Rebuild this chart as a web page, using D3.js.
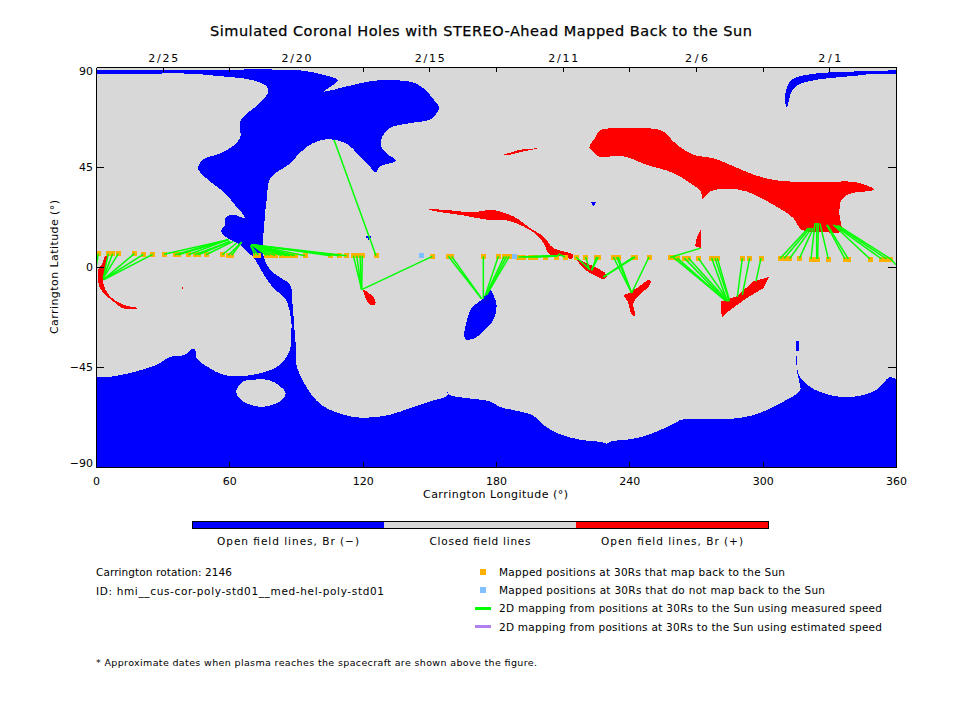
<!DOCTYPE html>
<html><head><meta charset="utf-8">
<script src="https://cdn.jsdelivr.net/npm/d3@7"></script>
<style>html,body{margin:0;padding:0;background:#fff}svg{display:block}text{font-family:"DejaVu Sans",sans-serif;fill:#000}</style>
</head><body><svg id="c" width="960" height="720"></svg>
<script>
// ---------- data (Carrington longitude, latitude in degrees) ----------
const lonTicks=[0,60,120,180,240,300,360];
const latTicks=[-90,-45,0,45,90];
const dateTickLons=[30,60,90,120,150,180,210,240,270,300,330];
const dateLabels={30:"2/25",90:"2/20",150:"2/15",210:"2/11",270:"2/6",330:"2/1"};

const blueMain=[[-5,88.8],[0,88.8],[20,88.8],[50,88.8],[83.55,88.8],[93.3,88.3],[102.3,86.5],[108.3,84.6],[108.75,84],[106.8,82],[102.45,79],[114.3,81.6],[124.8,83.8],[138.3,83.8],[144.3,82.5],[149.55,78.3],[152.55,74.5],[154.35,72],[152.55,68.1],[150.3,66.3],[139.8,64.5],[132.3,62.5],[128.55,58],[128.25,54.3],[130.8,51],[135,47.8],[127.8,45.3],[125.85,42.6],[122.55,46],[117.3,51.3],[113.55,55],[106.8,57.3],[100.8,57],[94.8,54],[90.3,49.8],[86.55,46],[79.8,41.5],[77.55,37.8],[77.1,32.5],[76.05,24.3],[75.6,16.8],[75,11.5],[75.6,4],[78.3,-1.2],[82.5,-4.5],[87.3,-8],[88.5,-17.7],[89.55,-31.2],[90,-37.2],[89.85,-38.7],[90.3,-44.7],[93.3,-51.5],[97.05,-57.5],[102.3,-62.7],[114.3,-67.2],[121.8,-67.8],[132.3,-66.5],[141.3,-63.5],[150.3,-60.5],[158.1,-57.8],[158.1,-56],[159,-57.5],[166.8,-59],[177.3,-60.5],[181.8,-63],[189.3,-64.7],[196.8,-66.9],[201.3,-71],[208.05,-75],[217.8,-77.7],[227.55,-78.8],[229.8,-79.5],[231.3,-78.6],[241.8,-77.3],[249.3,-75.2],[259.8,-70.7],[263.55,-68.7],[285.3,-68.4],[297.3,-66.2],[309.3,-60.6],[316.8,-55.7],[316.8,-53],[315.75,-48.5],[315.15,-40.2],[315.45,-40.2],[315.75,-47],[317.55,-50.7],[322.8,-54.9],[333.3,-58.2],[342.3,-58.2],[351.3,-55.2],[357.3,-49.5],[360,-50.4],[365,-50.6],[365,-95],[-5,-95],[-5,-49.8],[0,-49.7],[6.3,-49.4],[15.3,-47.7],[27.3,-44],[33.3,-40.5],[40.05,-39.5],[43.05,-36.8],[44.55,-37.2],[45.3,-41],[49.8,-44.7],[57.3,-48.5],[64.8,-49.2],[76.8,-47],[82.8,-44],[87.3,-37.2],[87.9,-28.2],[88.05,-26.7],[86.85,-18.5],[85,-14],[79.8,-9.5],[76,-4.2],[73,1],[70.8,4.5],[67.8,7],[64.8,10],[60.3,12.3],[56.25,16],[58.05,19],[58.05,22],[61.8,23.5],[67.05,22],[61.8,28.8],[57.3,34],[51.3,38.5],[46.05,43.8],[46.05,45.3],[48.3,48.6],[52.8,50.1],[58.8,52.5],[64.8,58],[64.8,65.5],[67.8,69],[73.8,73.8],[77.55,79],[76.8,81.3],[70.8,84],[53.55,86.1],[42.3,87],[20,87],[0,87],[-5,87]];
const closedIsland=[[63,-56],[66.3,-51.5],[70.8,-50.7],[78.3,-51],[82.8,-53.7],[85.35,-56.7],[83.55,-60],[76.8,-62.7],[70.8,-62.4],[64.8,-59.4]];
const blueBar=[[315,-33.2],[316.35,-33.2],[316.35,-37.7],[315,-37.7]];
const blueArc=[[365,88.5],[360,88.5],[342.3,88],[330.3,87.6],[319.8,86.5],[313.05,84.3],[310.8,80.5],[310.05,75.3],[310.8,71.8],[311.55,73.8],[313.05,79],[316.05,82],[322.8,84],[330.3,85],[342.3,86.1],[348.3,86.8],[360,87],[365,87]];
const blueTiny=[[222.9,29.2],[224.85,29.2],[224.6,28.2],[224.2,27.6],[223.6,27.6],[223.2,28.2]];
const blueCross=[[122.2,14.5],[122.9,14.5],[122.9,13.8],[123.8,13.8],[123.8,13],[122.9,13],[122.9,12.1],[122.2,12.1],[122.2,13],[121.4,13],[121.4,13.8],[122.2,13.8]];
const blueBlob=[[166.05,-32.4],[166.8,-24.5],[169.05,-18.5],[173.55,-14.7],[177.3,-10.2],[178.8,-12.5],[180.3,-17.7],[178.8,-23.7],[174.3,-29],[170.55,-32]];
const redBig=[[222,53.8],[224.55,58],[226.8,61.5],[235.8,62.5],[247.8,62.5],[255.3,61],[259.8,56.5],[265.8,52],[270.3,50.1],[277.8,49],[285.3,46],[297.3,41.1],[307.8,38.8],[322.8,38.1],[342.3,38.1],[350.1,34.8],[339.3,33],[335.55,30.3],[334.5,24.3],[335.25,16],[328.8,15.6],[317.55,16.8],[313.8,22],[304.8,28],[292.8,34],[283.8,35.2],[276.3,34],[273,30.7],[272.1,34],[267.3,37.8],[259.8,42.3],[247.8,46],[237.3,49.8],[226,49.8],[223.8,52]];
const redSliver=[[182.25,50.2],[190.8,52.8],[199.5,53.5],[192.3,52],[186.3,50.5]];
const redMid=[[149.1,26.1],[159.3,25.5],[169.8,24.6],[178.05,25.8],[184.8,24],[189.3,22],[195.3,17.5],[201.3,13.8],[205.8,8.5],[214.8,5.5],[214.05,3.6],[210.3,4.8],[204.3,5.5],[201.3,10.8],[198.3,14.5],[192.3,18.3],[184.8,21],[175.8,21.3],[165.3,23.2],[153.3,25]];
const redMidTail=[[215.55,4],[222.3,1],[229.8,-3.5],[229.05,-5.4],[223.8,-3.5],[219.3,-0.5],[216.3,3.3]];
const redDagger=[[238.8,-12.2],[243.3,-9.5],[249.3,-5.7],[249.3,-8],[245.55,-11.7],[241.8,-16.2],[242.55,-21.8],[241.05,-21.5],[239.55,-16.2],[237.6,-12.5]];
const redSmall=[[120.3,-10.5],[121.8,-11],[125.55,-14.7],[125.55,-17],[123.3,-17],[121.05,-13.2]];
const redLeft=[[4.05,4.8],[5.1,4.8],[4.05,-1.2],[3.3,-7.2],[6.3,-13.2],[12.3,-17],[18.75,-18.5],[13.05,-18.9],[7.8,-15.5],[1.8,-9.5],[1.05,-1.2],[3,1.8]];
const redSpeck=[[38.5,-9.2],[39.2,-9.2],[39.2,-9.9],[38.5,-9.9]];
const redTri=[[272.1,16.8],[272.1,8.5],[269.55,9.3],[270.3,13]];
const redLeaf=[[281.25,-15.5],[288.3,-13.2],[295.8,-6.5],[302.85,-4.5],[300.3,-9.5],[292.8,-14],[284.55,-20],[281.55,-22.7]];

const notMappedLon=[146.25,188.1];
const notMappedLat=[5.1,4.8];

const mappedLon=[1.05,5.55,7.5,10.05,17.25,21.3,25.5,30.6,35.55,37.05,41.55,44.55,46.05,49.5,56.85,59.55,61.05,71.55,73.05,76.8,78.3,80.55,83.55,85.8,87.3,89.55,94.05,105.6,109.35,112.8,115.8,117.3,118.8,119.85,126,151.35,158.55,160.05,174.3,181.05,183.75,184.8,186,190.05,192.3,195.3,197.55,202.05,207,211.05,216,220.35,225.3,226.05,232.8,234.3,235,241.8,242.55,248.85,258.3,259.8,261.6,264.75,266.55,271.05,277.05,278.55,279.6,290.85,294.15,299.25,307.8,309.6,312.15,316.5,321.75,324.3,324.75,329.55,337.05,338.55,348.3,353.55,355.8,357.6,357.6];
const mappedLat=[6,6,6,6,6,5.7,5.7,5.7,5.5,5.5,5.5,5.5,5.5,5.5,5.5,5.3,5.3,5.3,5.3,5.2,5.2,5.2,5.1,5.1,5.1,5.1,5.1,5.1,5.1,5.1,5.1,5.1,5.1,5.1,5.1,4.8,4.8,4.8,4.8,4.8,4.8,4.8,4.8,4.5,4.5,4.5,4.5,4.5,4.5,4.5,4.5,4.5,4.5,4.5,4.5,4.5,4.5,4.5,4.5,4.5,4.3,4.3,4,4,4,4,4,4,4,4,4,4,3.8,3.8,3.8,3.8,3.6,3.6,3.6,3.6,3.6,3.6,3.6,3.6,3.6,3.6,3.6];
const sunLon=[0,3.3,3.3,3.3,3.3,3.3,3.6,59.55,59.55,59.55,59.55,60.3,60.3,61.8,63.3,65.55,65.55,69.6,69.6,70.05,70.05,70.05,70.05,70.05,70.05,70.05,70.05,70.05,70.05,70.05,119.55,119.55,119.55,119.55,107.1,119.55,173.55,173.55,174.3,175.05,175.5,175.8,175.8,207.3,207.3,207.3,207.3,207.3,208.8,208.8,222.3,222,223,223,241.05,241.05,241.05,228.3,228.3,241.05,272.1,282.3,283.05,283.5,284.1,284.5,284.1,285,285,288.6,290.85,297,320.55,321.3,322.05,322.8,323.55,324.3,325.05,325.8,328.8,329.1,331.8,332.55,333.3,334.05,360];
const sunLat=[-0.5,-5,-5,-5,-5.7,-5.7,-5.7,12.3,12.3,12.3,12.3,11.5,11.5,11.5,10.8,11.2,11.2,9.7,9.7,10,10,10,10,10,10,10,10,10,10,10,-10.2,-10.2,-10.2,-10.2,57.3,-10.2,-14.3,-14.3,-14.3,-13.2,-12.5,-12.5,-12.5,5.1,5.1,5.1,5.1,5.1,6,5.5,-1.2,-1.2,-1.5,-1.5,-11.7,-11.7,-11.7,-4.5,-4.5,-11.7,8.5,-14.3,-15,-15.2,-15.2,-15.2,-15.5,-15.5,-14.7,-13.5,-12.5,-6.5,17.5,17.5,17.5,17.5,19.8,19.8,19.8,19.5,19,19,19,18.6,18.6,18.6,1];

const colorbarLabels=["Open field lines, Br (−)","Closed field lines","Open field lines, Br (+)"];
const legendLabels=["Mapped positions at 30Rs that map back to the Sun","Mapped positions at 30Rs that do not map back to the Sun","2D mapping from positions at 30Rs to the Sun using measured speed","2D mapping from positions at 30Rs to the Sun using estimated speed"];

// ---------- styles ----------
const BLUE="#0000ff",RED="#ff0000",GREY="#d8d8d8",GREEN="#00ff00",ORANGE="#ffb000",SKY="#80c0ff",PURPLE="#b080f0";

// ---------- scales ----------
const svg=d3.select("#c");
const x=d3.scaleLinear().domain([0,360]).range([96,896]);
const y=d3.scaleLinear().domain([-90,90]).range([467,67]);
const smooth=d3.line().x(d=>x(d[0])).y(d=>y(d[1])).curve(d3.curveCatmullRomClosed.alpha(0.5));
const sharp=d3.line().x(d=>x(d[0])).y(d=>y(d[1])).curve(d3.curveLinearClosed);

function label(s,px,py,o={}){
  const t=svg.append("text").attr("x",px).attr("y",py).attr("font-size",o.size||10.5)
    .attr("text-anchor",o.anchor||"start").attr("dominant-baseline","central").text(s);
  if(o.len)t.attr("textLength",o.len).attr("lengthAdjust","spacing");
  if(o.rotate)t.attr("transform",`rotate(${o.rotate} ${px} ${py})`);
  if(o.bold)t.style("stroke","#000").style("stroke-width",o.bold);
  return t;
}

// plot background and clip
svg.append("clipPath").attr("id","plot").append("rect").attr("x",x(0)).attr("y",y(90)).attr("width",x(360)-x(0)).attr("height",y(-90)-y(90));
svg.append("rect").attr("x",x(0)).attr("y",y(90)).attr("width",x(360)-x(0)).attr("height",y(-90)-y(90)).attr("fill",GREY);

// regions
const layers=[[blueMain,BLUE,smooth],[closedIsland,GREY,smooth],[blueBar,BLUE,sharp],[blueArc,BLUE,smooth],[blueTiny,BLUE,sharp],[blueCross,BLUE,sharp],[blueBlob,BLUE,smooth],
 [redBig,RED,smooth],[redSliver,RED,sharp],[redMid,RED,smooth],[redMidTail,RED,smooth],[redDagger,RED,smooth],[redSmall,RED,smooth],[redLeft,RED,smooth],[redSpeck,RED,sharp],[redTri,RED,sharp],[redLeaf,RED,sharp]];
svg.append("g").attr("clip-path","url(#plot)").attr("shape-rendering","crispEdges").selectAll("path").data(layers).join("path")
  .attr("d",d=>d[2](d[0])).attr("fill",d=>d[1]);

// mapped positions
svg.append("g").attr("shape-rendering","crispEdges").selectAll("rect").data(mappedLon).join("rect")
  .attr("x",d=>x(d)-2.5).attr("y",(d,i)=>y(mappedLat[i])-2.5).attr("width",5).attr("height",5).attr("fill",ORANGE);
svg.append("g").attr("shape-rendering","crispEdges").selectAll("rect").data(notMappedLon).join("rect")
  .attr("x",d=>x(d)-2.5).attr("y",(d,i)=>y(notMappedLat[i])-2.5).attr("width",5).attr("height",5).attr("fill",SKY);

// mapping lines
svg.append("g").attr("clip-path","url(#plot)").selectAll("line").data(mappedLon).join("line")
  .attr("x1",d=>x(d)).attr("y1",(d,i)=>y(mappedLat[i])).attr("x2",(d,i)=>x(sunLon[i])).attr("y2",(d,i)=>y(sunLat[i]))
  .attr("stroke",GREEN).attr("stroke-width",1.5);

// axes
const ax=(g,a)=>g.call(a).call(s=>s.selectAll("text").attr("fill","#000").attr("font-family",'"DejaVu Sans",sans-serif').attr("font-size",11))
  .call(s=>s.selectAll("path,line").attr("stroke","#000").attr("shape-rendering","crispEdges"));
ax(svg.append("g").attr("transform",`translate(0,${y(-90)})`),d3.axisBottom(x).tickValues(lonTicks).tickSize(-5).tickSizeOuter(0).tickPadding(10).tickFormat(d3.format("d")));
ax(svg.append("g").attr("transform",`translate(0,${y(90)})`),d3.axisTop(x).tickValues(dateTickLons).tickSize(-5).tickSizeOuter(0).tickPadding(5).tickFormat(d=>dateLabels[d]||""))
  .selectAll(".tick text").attr("textLength",d=>dateLabels[d]?(dateLabels[d].length===4?30:23):null).attr("lengthAdjust","spacing");
ax(svg.append("g").attr("transform",`translate(${x(0)},0)`),d3.axisLeft(y).tickValues(latTicks).tickSize(-8).tickSizeOuter(0).tickPadding(3).tickFormat(d3.format("d")))
  .selectAll(".tick text").attr("dy",d=>d===90?"0.7em":d===-90?"-0.05em":"0.32em").text(d=>d<0?"−"+(-d):d);
ax(svg.append("g").attr("transform",`translate(${x(360)},0)`),d3.axisRight(y).tickValues(latTicks).tickSize(-8).tickSizeOuter(0).tickFormat(""));
svg.selectAll("g.tick").filter(d=>d===90||d===-90).selectAll("line").attr("stroke-opacity",0);

// titles
label("Simulated Coronal Holes with STEREO-Ahead Mapped Back to the Sun",481,31,{size:14.5,anchor:"middle",len:542,bold:0.25});
label("Carrington Longitude (°)",495.5,494,{size:11,anchor:"middle",len:145});
label("Carrington Latitude (°)",54,267,{size:11,anchor:"middle",len:134,rotate:-90});

// colour bar
const barX=d3.scaleBand().domain(colorbarLabels).range([192,768]);
svg.append("g").attr("shape-rendering","crispEdges").selectAll("rect").data(colorbarLabels).join("rect")
  .attr("x",d=>barX(d)).attr("y",521).attr("width",barX.bandwidth()).attr("height",8).attr("fill",(d,i)=>[BLUE,GREY,RED][i]);
svg.append("rect").attr("x",192.5).attr("y",521.5).attr("width",576).attr("height",7).attr("fill","none").attr("stroke","#000").attr("shape-rendering","crispEdges");
colorbarLabels.forEach((s,i)=>label(s,barX(s)+barX.bandwidth()/2,541,{anchor:"middle",len:[142,101,142][i]}));

// notes
label("Carrington rotation: 2146",96,572,{len:136});
label("ID: hmi__cus-cor-poly-std01__med-hel-poly-std01",96,590.5,{len:288});
label("* Approximate dates when plasma reaches the spacecraft are shown above the figure.",96,662.5,{size:9.5,len:441});

// legend
const rowY=d3.scalePoint().domain(legendLabels).range([572,626.5]);
legendLabels.forEach((s,i)=>label(s,499,rowY(s),{len:[286,326,383,383][i]}));
[ORANGE,SKY].forEach((c,i)=>svg.append("rect").attr("x",480).attr("y",rowY(legendLabels[i])-3).attr("width",6).attr("height",6).attr("fill",c).attr("shape-rendering","crispEdges"));
[GREEN,PURPLE].forEach((c,i)=>svg.append("rect").attr("x",475).attr("y",rowY(legendLabels[i+2])-1.5).attr("width",16).attr("height",3).attr("fill",c).attr("shape-rendering","crispEdges"));
</script></body></html>
